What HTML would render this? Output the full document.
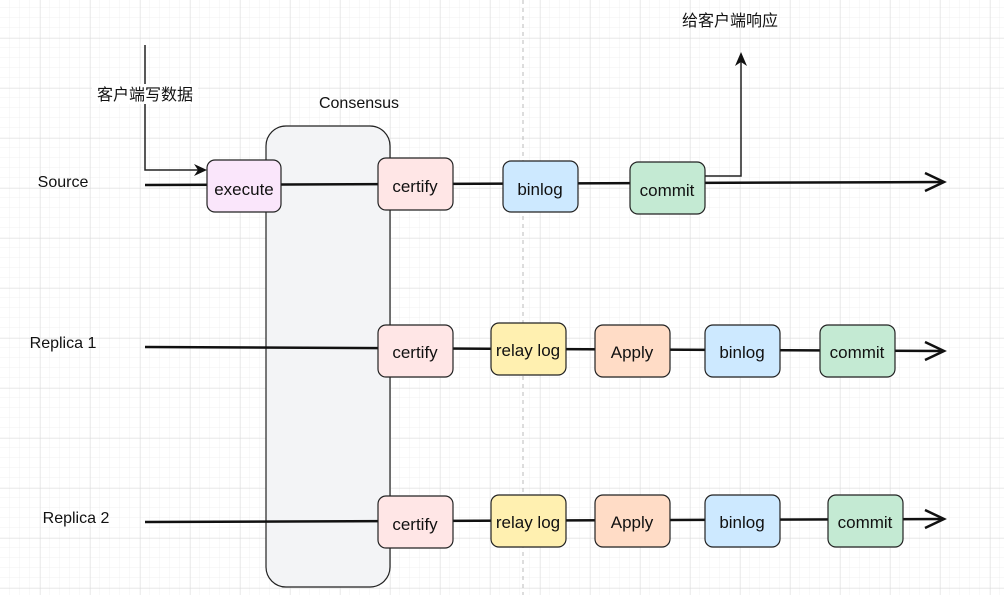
<!DOCTYPE html>
<html><head><meta charset="utf-8"><style>
body{margin:0;width:1004px;height:595px;overflow:hidden;background:#fff}
svg{display:block}
text{font-family:"Liberation Sans","Noto Sans CJK SC",sans-serif;fill:#111}
</style></head><body>
<svg width="1004" height="595" viewBox="0 0 1004 595" xmlns="http://www.w3.org/2000/svg">
<defs>
<pattern id="minor" width="10" height="10" patternUnits="userSpaceOnUse" x="0" y="8">
<path d="M10 0V10M0 10H10" fill="none" stroke="#f0f0f0" stroke-width="1"/>
</pattern>
<pattern id="major" width="50" height="50" patternUnits="userSpaceOnUse" x="40.5" y="38.5">
<path d="M0 0V50M0 0H50" fill="none" stroke="#dcdcdc" stroke-width="1"/>
</pattern>
</defs>
<rect width="1004" height="595" fill="url(#minor)"/>
<rect width="1004" height="595" fill="url(#major)"/>
<line x1="523" y1="0" x2="523" y2="595" stroke="#bbb" stroke-dasharray="4 4"/>

<rect x="266" y="126" width="124" height="461" rx="20" fill="#f3f4f6" stroke="#222" stroke-width="1.2"/>
<text x="359" y="108" font-size="16" text-anchor="middle">Consensus</text>

<g stroke="#111" stroke-width="2.5" fill="none">
<polyline points="145,185 944,182"/>
<polyline points="925,173 944,182 925,191"/>
<polyline points="145,347 944,351"/>
<polyline points="925,342 944,351 925,360"/>
<polyline points="145,522 944,519"/>
<polyline points="925,510 944,519 925,528"/>
</g>
<g stroke="#222" stroke-width="1.5" fill="none">
<polyline points="145,45 145,170 200,170"/>
<polyline points="705,176 741,176 741,60"/>
</g>
<polygon points="207,170 194,164 198,170 194,176" fill="#111"/>
<polygon points="741,52 735,66 741,62 747,66" fill="#111"/>

<rect x="92" y="84" width="106" height="20" fill="#fff"/>
<text x="145" y="100" font-size="16" text-anchor="middle">客户端写数据</text>
<text x="730" y="26" font-size="16" text-anchor="middle">给客户端响应</text>
<text x="63" y="187" font-size="16" text-anchor="middle">Source</text>
<text x="63" y="348" font-size="16" text-anchor="middle">Replica 1</text>
<text x="76" y="523" font-size="16" text-anchor="middle">Replica 2</text>

<g stroke="#222" stroke-width="1.2" font-size="17">
<rect x="207" y="160" width="74" height="52" rx="8" fill="#fae6fb"/>
<rect x="378" y="158" width="75" height="52" rx="8" fill="#ffe6e6"/>
<rect x="503" y="161" width="75" height="51" rx="8" fill="#cde9ff"/>
<rect x="630" y="162" width="75" height="52" rx="8" fill="#c4ead3"/>

<rect x="378" y="325" width="75" height="52" rx="8" fill="#ffe6e6"/>
<rect x="491" y="323" width="75" height="52" rx="8" fill="#fff0b0"/>
<rect x="595" y="325" width="75" height="52" rx="8" fill="#ffdcc6"/>
<rect x="705" y="325" width="75" height="52" rx="8" fill="#cde9ff"/>
<rect x="820" y="325" width="75" height="52" rx="8" fill="#c4ead3"/>

<rect x="378" y="496" width="75" height="52" rx="8" fill="#ffe6e6"/>
<rect x="491" y="495" width="75" height="52" rx="8" fill="#fff0b0"/>
<rect x="595" y="495" width="75" height="52" rx="8" fill="#ffdcc6"/>
<rect x="705" y="495" width="75" height="52" rx="8" fill="#cde9ff"/>
<rect x="828" y="495" width="75" height="52" rx="8" fill="#c4ead3"/>
</g>
<g font-size="17" text-anchor="middle">
<text x="244" y="195">execute</text>
<text x="415" y="192">certify</text>
<text x="540" y="195">binlog</text>
<text x="667" y="196">commit</text>
<text x="415" y="358">certify</text>
<text x="528" y="356">relay log</text>
<text x="632" y="358">Apply</text>
<text x="742" y="358">binlog</text>
<text x="857" y="358">commit</text>
<text x="415" y="530">certify</text>
<text x="528" y="528">relay log</text>
<text x="632" y="528">Apply</text>
<text x="742" y="528">binlog</text>
<text x="865" y="528">commit</text>
</g>
</svg>
</body></html>
